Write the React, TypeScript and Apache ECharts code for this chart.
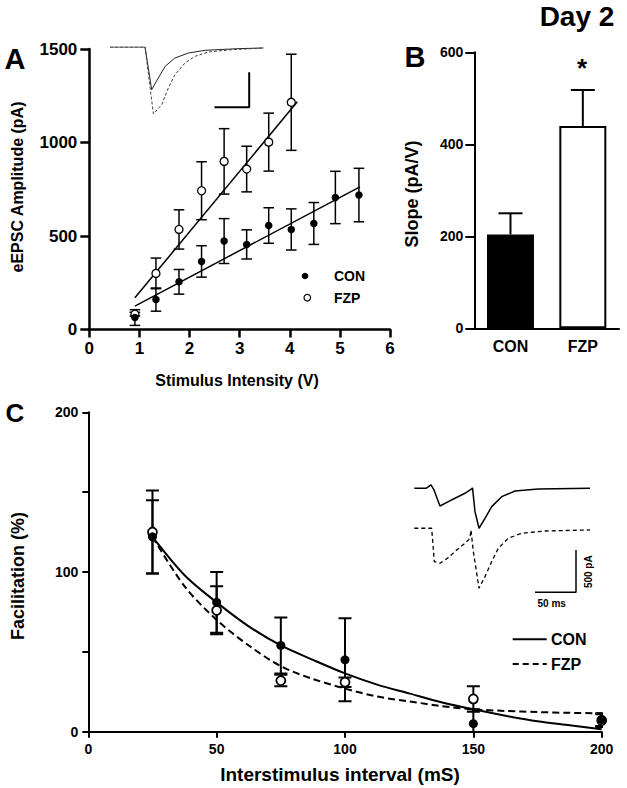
import React, { useEffect, useRef } from 'react';
import * as echarts from 'echarts';

const FONT = '"Liberation Sans", Arial, Helvetica, sans-serif';

// ---- Panel A: eEPSC amplitude vs stimulus intensity ----
const stimCon = [0.91, 1.33, 1.79, 2.24, 2.69, 3.14, 3.58, 4.03, 4.48, 4.91, 5.38];
const ampCon = [64, 160, 255, 364, 473, 455, 556, 535, 567, 706, 719];
const semCon = [42, 62, 66, 84, 120, 78, 95, 110, 112, 140, 143];
const stimFzp = [0.91, 1.33, 1.79, 2.24, 2.69, 3.14, 3.58, 4.03];
const ampFzp = [82, 300, 535, 742, 899, 858, 1002, 1215];
const semFzp = [10, 82, 105, 155, 175, 122, 155, 257];
const fitConAX = [0.91, 5.4];
const fitConAY = [125, 763];
const fitFzpAX = [0.91, 4.15];
const fitFzpAY = [170, 1218];

// inset A traces (ms, pA)
const traceAConT = [0, 10.1, 12.0, 13.9, 15.9, 18.7, 22.6, 27.4, 36.9, 44.2];
const traceACon = [0, 0, -610, -443, -276, -157, -86, -47, -24, -14];
const traceAFzpT = [0, 10.1, 12.5, 14.9, 16.8, 18.7, 21.6, 24.5, 28.3, 35.1, 44.2];
const traceAFzp = [0, 0, -957, -824, -586, -396, -229, -133, -71, -39, -14];
const scaleAT = [30.1, 40.1, 40.1];
const scaleAV = [-861, -861, -361];

// ---- Panel B: slope ----
const groups = ['CON', 'FZP'];
const slope = [204, 440];
const slopeSem = [46, 78];

// ---- Panel C: facilitation ----
const isi = [25, 50, 75, 100, 150, 200];
const facCon = [122, 81, 54, 45, 5, 7.5];
const facConSem = [23, 19, 17.5, 26, 9, 4];
const facFzp = [125, 76, 32, 31, 20.5, 7];
const facFzpSem = [26, 15, 3.6, 3, 8, 4];
const fitCX = [25, 37.5, 50, 62.5, 75, 87.5, 100, 112.5, 125, 137.5, 150, 162.5, 175, 187.5, 200];
const fitConC = [122, 98, 81, 66, 54, 45, 36.5, 29.5, 24, 18.5, 14, 10, 6.5, 4, 1.5];
const fitFzpC = [122, 91, 70, 54, 41, 33, 27, 22, 19, 16, 14, 13, 12.3, 11.8, 11.5];

// inset C traces (ms, pA)
const traceCConT = [0, 14.3, 20.4, 24, 31.3, 41.5, 49.6, 61.8, 70, 71, 74, 78.9, 86.2, 94.4, 106.6, 122.8, 151.2, 214.3];
const traceCCon = [0, 0, 39, -20, -209, -158, -118, -59, -8, 4, -276, -472, -354, -217, -99, -32, -8, 0];
const traceCFzpT = [0, 21.2, 24.4, 31.3, 41.5, 51.7, 61.8, 67.9, 69.1, 72, 78.9, 86.2, 94.4, 102.4, 114.6, 131, 159.4, 214.3];
const traceCFzp = [0, 0, -394, -413, -347, -256, -177, -118, -20, -276, -708, -571, -394, -236, -118, -59, -32, -20];
const scaleCT = [147.2, 197.2, 197.2];
const scaleCV = [-756, -756, -256];

const zip = (xs: number[], ys: number[]) => xs.map((x, i) => [x, ys[i]]);
const zip3 = (xs: number[], ys: number[], es: number[]) => xs.map((x, i) => [x, ys[i], es[i]]);

function errRender(halfW: number, lw: number, upOnly: boolean) {
  return (params: any, api: any) => {
    const x = api.value(0);
    const y = api.value(1);
    const e = api.value(2);
    const p0 = api.coord([x, upOnly ? y : y - e]);
    const p1 = api.coord([x, y + e]);
    const style = { stroke: '#000', lineWidth: lw, fill: 'none' };
    const children: any[] = [
      { type: 'line', shape: { x1: p0[0], y1: p0[1], x2: p1[0], y2: p1[1] }, style },
      { type: 'line', shape: { x1: p1[0] - halfW, y1: p1[1], x2: p1[0] + halfW, y2: p1[1] }, style },
    ];
    if (!upOnly) {
      children.push({ type: 'line', shape: { x1: p0[0] - halfW, y1: p0[1], x2: p0[0] + halfW, y2: p0[1] }, style });
    }
    return { type: 'group', children };
  };
}

const axisStyle = (w: number) => ({
  axisLine: { show: true, onZero: false, lineStyle: { color: '#000', width: w } },
  splitLine: { show: false },
});
const labelStyle = (size: number, margin: number) => ({
  color: '#000', fontSize: size, fontWeight: 'bold', fontFamily: FONT, margin,
  formatter: (v: any) => String(v),
});
const hidden = { show: false, splitLine: { show: false } };

const txt = (text: string, x: number, y: number, size: number, extra: any = {}) => ({
  type: 'text', x, y, rotation: extra.rotation || 0, silent: true,
  style: {
    text, fill: '#000', fontSize: size, fontWeight: 'bold', fontFamily: FONT,
    align: extra.align || 'center', verticalAlign: 'middle',
  },
});

export default function App() {
  const ref = useRef<HTMLDivElement>(null);
  useEffect(() => {
    if (!ref.current) return;
    const chart = echarts.init(ref.current, undefined, { renderer: 'svg' });
    const option: any = {
      animation: false,
      backgroundColor: '#fff',
      grid: [
        { left: 89.3, top: 49, width: 300.7, height: 280.5, containLabel: false, outerBoundsMode: 'none' },
        { left: 474.3, top: 52.3, width: 144.7, height: 276, containLabel: false, outerBoundsMode: 'none' },
        { left: 88.3, top: 412.3, width: 513.4, height: 319.4, containLabel: false, outerBoundsMode: 'none' },
        { left: 110, top: 47, width: 156.2, height: 70, containLabel: false, outerBoundsMode: 'none' },
        { left: 414.3, top: 479.8, width: 176.3, height: 59.3, containLabel: false, outerBoundsMode: 'none' },
        { left: 414.3, top: 519.8, width: 176.3, height: 76.2, containLabel: false, outerBoundsMode: 'none' },
      ],
      xAxis: [
        {
          gridIndex: 0, type: 'value', min: 0, max: 6, interval: 1, ...axisStyle(2.5),
          axisTick: { show: true, length: 8, lineStyle: { color: '#000', width: 2.5 } },
          axisLabel: labelStyle(17, 10),
        },
        {
          gridIndex: 1, type: 'category', data: groups, ...axisStyle(2),
          axisTick: { show: false },
          axisLabel: { color: '#000', fontSize: 16, fontWeight: 'bold', fontFamily: FONT, margin: 10 },
        },
        {
          gridIndex: 2, type: 'value', min: 0, max: 200, interval: 50, ...axisStyle(2),
          axisTick: { show: true, length: 6, lineStyle: { color: '#000', width: 2 } },
          axisLabel: labelStyle(14, 10),
        },
        { gridIndex: 3, type: 'value', min: 0, max: 45, ...hidden },
        { gridIndex: 4, type: 'value', min: 0, max: 215, ...hidden },
        { gridIndex: 5, type: 'value', min: 0, max: 215, ...hidden },
      ],
      yAxis: [
        {
          gridIndex: 0, type: 'value', min: 0, max: 1500, interval: 500, ...axisStyle(2.5),
          axisTick: { show: true, length: 9, lineStyle: { color: '#000', width: 2.5 } },
          axisLabel: labelStyle(17, 12),
        },
        {
          gridIndex: 1, type: 'value', min: 0, max: 600, interval: 200, ...axisStyle(2),
          axisTick: { show: true, length: 9, lineStyle: { color: '#000', width: 2 } },
          axisLabel: labelStyle(14, 11),
        },
        {
          gridIndex: 2, type: 'value', min: 0, max: 200, interval: 50, ...axisStyle(2),
          axisTick: { show: true, length: 6, lineStyle: { color: '#000', width: 2 } },
          axisLabel: { ...labelStyle(14, 10), formatter: (v: number) => (v % 100 === 0 ? String(v) : '') },
        },
        { gridIndex: 3, type: 'value', min: -1000, max: 0, ...hidden },
        { gridIndex: 4, type: 'value', min: -600, max: 100, ...hidden },
        { gridIndex: 5, type: 'value', min: -800, max: 100, ...hidden },
      ],
      series: [
        // Panel A
        { type: 'custom', xAxisIndex: 0, yAxisIndex: 0, data: zip3(stimFzp, ampFzp, semFzp), encode: { x: 0, y: 1 }, renderItem: errRender(5.3, 1.5, false), z: 2, silent: true },
        { type: 'custom', xAxisIndex: 0, yAxisIndex: 0, data: zip3(stimCon, ampCon, semCon), encode: { x: 0, y: 1 }, renderItem: errRender(5.3, 1.5, false), z: 2, silent: true },
        { type: 'line', xAxisIndex: 0, yAxisIndex: 0, data: zip(fitConAX, fitConAY), symbol: 'none', lineStyle: { color: '#000', width: 1.5 }, z: 3, silent: true },
        { type: 'line', xAxisIndex: 0, yAxisIndex: 0, data: zip(fitFzpAX, fitFzpAY), symbol: 'none', lineStyle: { color: '#000', width: 1.5 }, z: 3, silent: true },
        { type: 'scatter', name: 'FZP', xAxisIndex: 0, yAxisIndex: 0, data: zip(stimFzp, ampFzp), symbol: 'circle', symbolSize: 8, itemStyle: { color: '#fff', borderColor: '#000', borderWidth: 1.3, opacity: 1 }, z: 4, silent: true },
        { type: 'scatter', name: 'CON', xAxisIndex: 0, yAxisIndex: 0, data: zip(stimCon, ampCon), symbol: 'circle', symbolSize: 7.5, itemStyle: { color: '#000', opacity: 1 }, z: 5, silent: true },
        // inset A
        { type: 'line', xAxisIndex: 3, yAxisIndex: 3, data: zip(traceAConT, traceACon), symbol: 'none', lineStyle: { color: '#222', width: 1 }, silent: true },
        { type: 'line', xAxisIndex: 3, yAxisIndex: 3, data: zip(traceAFzpT, traceAFzp), symbol: 'none', lineStyle: { color: '#444', width: 1, type: [3, 2] }, silent: true },
        { type: 'line', xAxisIndex: 3, yAxisIndex: 3, data: zip(scaleAT, scaleAV), symbol: 'none', lineStyle: { color: '#000', width: 2 }, silent: true },
        // Panel B
        {
          type: 'bar', xAxisIndex: 1, yAxisIndex: 1, barWidth: 47, silent: true,
          data: slope.map((v, i) => ({
            value: v,
            itemStyle: { color: i === 0 ? '#000' : '#fff', borderColor: '#000', borderWidth: 2, opacity: 1 },
          })),
        },
        { type: 'custom', xAxisIndex: 1, yAxisIndex: 1, data: slope.map((v, i) => [i, v, slopeSem[i]]), encode: { x: 0, y: 1 }, renderItem: errRender(12, 2, true), z: 3, silent: true },
        // Panel C
        { type: 'custom', xAxisIndex: 2, yAxisIndex: 2, data: zip3(isi, facFzp, facFzpSem), encode: { x: 0, y: 1 }, renderItem: errRender(6.5, 2, false), z: 2, clip: true, silent: true },
        { type: 'custom', xAxisIndex: 2, yAxisIndex: 2, data: zip3(isi, facCon, facConSem), encode: { x: 0, y: 1 }, renderItem: errRender(6.5, 2, false), z: 2, clip: true, silent: true },
        { type: 'line', xAxisIndex: 2, yAxisIndex: 2, data: zip(fitCX, fitConC), symbol: 'none', smooth: 0.3, lineStyle: { color: '#000', width: 2 }, z: 3, silent: true },
        { type: 'line', xAxisIndex: 2, yAxisIndex: 2, data: zip(fitCX, fitFzpC), symbol: 'none', smooth: 0.3, lineStyle: { color: '#000', width: 2, type: [7, 4] }, z: 3, silent: true },
        { type: 'scatter', xAxisIndex: 2, yAxisIndex: 2, data: zip(isi, facFzp), symbol: 'circle', symbolSize: 9, itemStyle: { color: '#fff', borderColor: '#000', borderWidth: 1.8, opacity: 1 }, z: 4, silent: true },
        { type: 'scatter', xAxisIndex: 2, yAxisIndex: 2, data: zip(isi, facCon), symbol: 'circle', symbolSize: 9, itemStyle: { color: '#000', opacity: 1 }, z: 5, silent: true },
        // inset C
        { type: 'line', xAxisIndex: 4, yAxisIndex: 4, data: zip(traceCConT, traceCCon), symbol: 'none', lineStyle: { color: '#000', width: 1.5 }, silent: true },
        { type: 'line', xAxisIndex: 5, yAxisIndex: 5, data: zip(traceCFzpT, traceCFzp), symbol: 'none', lineStyle: { color: '#000', width: 1.3, type: [4, 3] }, silent: true },
        { type: 'line', xAxisIndex: 5, yAxisIndex: 5, data: zip(scaleCT, scaleCV), symbol: 'none', lineStyle: { color: '#000', width: 1.5 }, silent: true },
      ],
      graphic: [
        txt('Day 2', 577, 16, 28),
        txt('A', 15, 59, 29),
        txt('B', 415, 57, 29),
        txt('C', 15, 413, 26),
        txt('eEPSC Amplitude (pA)', 17.5, 187, 16, { rotation: Math.PI / 2 }),
        txt('Stimulus Intensity (V)', 237, 380, 16),
        txt('Slope (pA/V)', 412, 194, 18, { rotation: Math.PI / 2 }),
        txt('*', 582, 68, 26),
        txt('Facilitation (%)', 17.5, 576, 18, { rotation: Math.PI / 2 }),
        txt('Interstimulus interval (mS)', 340, 774, 19),
        // legend A
        { type: 'circle', shape: { cx: 305, cy: 276, r: 3.3 }, style: { fill: '#000' }, silent: true },
        { type: 'circle', shape: { cx: 307.3, cy: 297.7, r: 3.3 }, style: { fill: '#fff', stroke: '#000', lineWidth: 1.2 }, silent: true },
        txt('CON', 334, 276, 14, { align: 'left' }),
        txt('FZP', 334, 297.7, 14, { align: 'left' }),
        // legend C
        { type: 'line', shape: { x1: 512.7, y1: 639.3, x2: 546.7, y2: 639.3 }, style: { stroke: '#000', lineWidth: 2 }, silent: true },
        { type: 'line', shape: { x1: 512.7, y1: 664, x2: 546.7, y2: 664 }, style: { stroke: '#000', lineWidth: 2, lineDash: [6, 4] }, silent: true },
        txt('CON', 551, 639.3, 16, { align: 'left' }),
        txt('FZP', 551, 664, 16, { align: 'left' }),
        // inset C scale labels
        txt('500 pA', 588.3, 571.7, 10, { rotation: Math.PI / 2 }),
        txt('50 ms', 551.7, 603, 10),
      ],
    };
    chart.setOption(option);
    return () => chart.dispose();
  }, []);
  return (
    <div
      ref={ref}
      style={{ position: 'fixed', left: 0, top: 0, width: 627, height: 788, background: '#fff' }}
    />
  );
}
